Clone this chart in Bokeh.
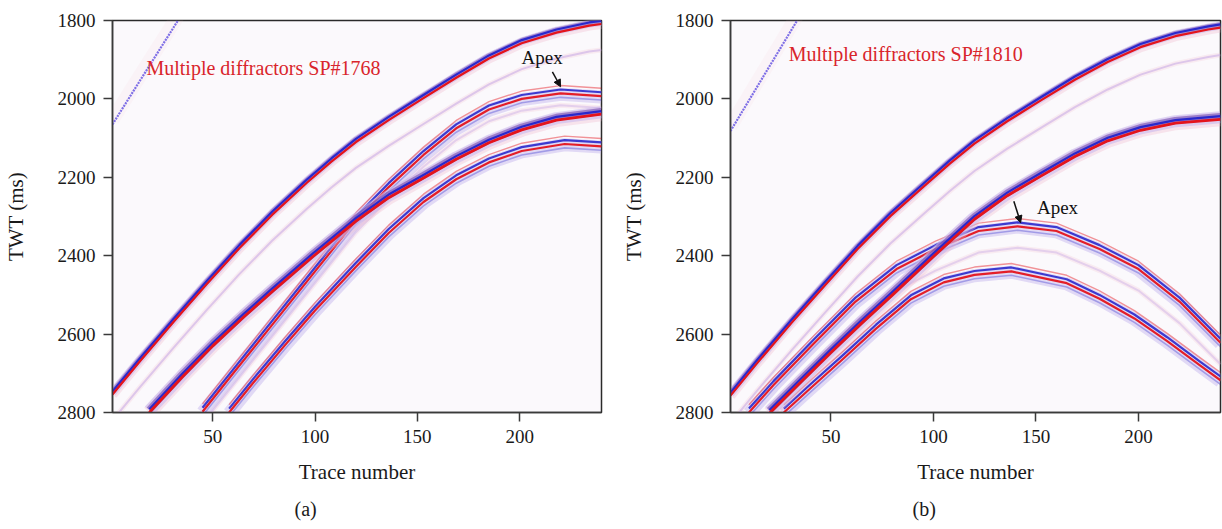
import numpy as np
from bokeh.plotting import figure
from bokeh.layouts import row
from bokeh.models import Label, Arrow, NormalHead, Range1d, FixedTicker, Title
from bokeh.embed import file_html
from bokeh.resources import INLINE

# ---------------- data ----------------
trace_ticks = [50, 100, 150, 200]
twt_ticks = [1800, 2000, 2200, 2400, 2600, 2800]

# Panel (a) SP#1768
a0_x = [1, 14, 33]
a0_t = [2065, 1957, 1800]
a1_x = [1, 14, 31, 47, 63, 79, 96, 108, 120, 136, 153, 169, 185, 201, 218, 234, 240]
a1_t = [2752, 2670, 2566, 2471, 2379, 2294, 2212, 2158, 2108, 2052, 1996, 1944, 1895, 1856, 1829, 1811, 1807]
a1m_t = [2820, 2738, 2634, 2539, 2447, 2362, 2280, 2226, 2176, 2120, 2064, 2012, 1963, 1924, 1897, 1879, 1875]
a2_x = [19, 35, 50, 65, 79, 99, 120, 136, 153, 169, 185, 201, 218, 240]
a2_t = [2798, 2708, 2628, 2555, 2490, 2400, 2310, 2250, 2200, 2152, 2110, 2077, 2052, 2037]
a3_x = [45, 60, 80, 100, 120, 136, 153, 169, 185, 201, 220, 240]
a3_t = [2798, 2700, 2570, 2440, 2310, 2225, 2143, 2075, 2027, 2000, 1986, 1993]
a4_x = [58, 70, 85, 100, 120, 136, 153, 169, 185, 201, 222, 240]
a4_t = [2800, 2723, 2630, 2540, 2428, 2342, 2263, 2205, 2162, 2133, 2115, 2121]

# Panel (b) SP#1810
b0_x = [1, 17, 33.5]
b0_t = [2082, 1943, 1800]
b1_x = [1, 14, 31, 47, 63, 79, 96, 108, 120, 136, 153, 169, 185, 201, 218, 234, 240]
b1_t = [2755, 2672, 2568, 2474, 2381, 2297, 2218, 2163, 2112, 2055, 2000, 1949, 1904, 1866, 1838, 1821, 1816]
b1m_t = [2827, 2744, 2640, 2546, 2453, 2369, 2290, 2235, 2184, 2127, 2072, 2021, 1976, 1938, 1910, 1893, 1888]
b2_x = [20, 35, 50, 65, 80, 100, 120, 136, 153, 169, 185, 201, 218, 240]
b2_t = [2800, 2722, 2645, 2570, 2498, 2400, 2305, 2245, 2193, 2145, 2105, 2078, 2060, 2050]
b3_x = [10, 22, 42, 62, 82, 101, 122, 141, 160, 181, 200, 220, 240]
b3_t = [2800, 2730, 2622, 2517, 2434, 2383, 2337, 2325, 2337, 2383, 2434, 2517, 2622]
b4_x = [27, 40, 56, 72, 89, 105, 120, 138, 165, 181, 198, 214, 230, 240]
b4_t = [2800, 2738, 2663, 2586, 2511, 2468, 2449, 2440, 2470, 2510, 2560, 2618, 2680, 2718]

titles = ["Multiple diffractors SP#1768", "Multiple diffractors SP#1810"]
panel_tags = ["(a)", "(b)"]

# ---------------- styles ----------------
FONT = "Liberation Serif"
BLUE = "#2a28cc"
RED = "#e4141c"
HALO = "#c2b2ee"
FUZZ = "#5a2fa8"
PINK = "#f1b9cf"


def shift(t, d):
    return [v + d for v in t]


def strong(p, x, t, thick=False):
    p.line(x, shift(t, 2), line_width=14 if thick else 10, color=PINK, alpha=0.35, line_join="round")
    p.line(x, shift(t, -3), line_width=12 if thick else 8, color=HALO, alpha=0.5, line_join="round")
    p.line(x, shift(t, -5), line_width=7 if thick else 5, color=FUZZ, alpha=0.5 if thick else 0.42,
           line_join="round")
    p.line(x, shift(t, -6), line_width=2.2, color=BLUE, line_join="round")
    p.line(x, shift(t, 2), line_width=2.8 if thick else 2.2, color=RED, line_join="round")


def apex(p, x, t):
    p.line(x, shift(t, 2), line_width=13, color=HALO, alpha=0.45, line_join="round")
    p.line(x, shift(t, -20), line_width=1.4, color=RED, alpha=0.45, line_join="round")
    p.line(x, shift(t, -10), line_width=2.2, color=BLUE, alpha=0.9, line_join="round")
    p.line(x, t, line_width=2.2, color=RED, alpha=0.95, line_join="round")
    p.line(x, shift(t, 10), line_width=1.6, color=BLUE, alpha=0.35, line_join="round")


def faint(p, x, t, color="#c9aee6", alpha=0.6, w=2):
    p.line(x, t, line_width=w + 3, color=PINK, alpha=0.22, line_join="round")
    p.line(x, t, line_width=w, color=color, alpha=alpha, line_join="round")


def steep(p, x, t):
    p.line(x, shift(t, -12), line_width=14, color="#f7cdd2", alpha=0.12)
    p.line(x, t, line_width=2.2, color="#7e6ee6", line_dash="2 1")


def make_fig(border_left, border_right, width, tag, tag_offset):
    p = figure(width=width, height=529, output_backend="svg", toolbar_location=None,
               x_range=Range1d(1, 240), y_range=Range1d(2800, 1800),
               min_border_left=border_left, min_border_right=border_right,
               min_border_top=20, min_border_bottom=115)
    p.background_fill_color = "#fbf9fc"
    p.border_fill_color = "white"
    p.outline_line_color = "#2a2a2a"
    p.outline_line_width = 1.5
    p.grid.visible = False
    p.xaxis.ticker = FixedTicker(ticks=trace_ticks)
    p.yaxis.ticker = FixedTicker(ticks=twt_ticks)
    p.xaxis.axis_label = "Trace number"
    p.yaxis.axis_label = "TWT (ms)"
    for ax in (p.xaxis, p.yaxis):
        ax.axis_line_color = "#3a3a3a"
        ax.axis_line_width = 1.5
        ax.major_tick_line_color = "#3a3a3a"
        ax.major_tick_line_width = 1.5
        ax.major_tick_out = 9
        ax.major_tick_in = 0
        ax.minor_tick_out = 0
        ax.minor_tick_in = 0
        ax.major_label_text_font = FONT
        ax.major_label_text_font_size = "19px"
        ax.major_label_text_color = "#1a1a1a"
        ax.axis_label_text_font = FONT
        ax.axis_label_text_font_size = "21px"
        ax.axis_label_text_font_style = "normal"
        ax.axis_label_text_color = "#1a1a1a"
    p.xaxis.major_label_standoff = 8
    p.yaxis.major_label_standoff = 8
    p.xaxis.axis_label_standoff = 14
    p.yaxis.axis_label_standoff = 27
    p.add_layout(Title(text=tag, align="left", offset=tag_offset, text_font=FONT,
                       text_font_size="20px", text_font_style="normal",
                       text_color="#1a1a1a", standoff=19), "below")
    return p


def label(p, x, y, text, size, color, align="center"):
    p.add_layout(Label(x=x, y=y, text=text, text_font=FONT, text_font_size=size,
                       text_color=color, text_baseline="middle", text_align=align))


pa = make_fig(111, 14, 615, panel_tags[0], 182)
steep(pa, a0_x, a0_t)
faint(pa, a1_x, a1m_t)
faint(pa, a3_x, shift(a3_t, 30), alpha=0.45)
strong(pa, a1_x, a1_t)
apex(pa, a4_x, a4_t)
apex(pa, a3_x, a3_t)
strong(pa, a2_x, a2_t, thick=True)
label(pa, 17.6, 1922, titles[0], "20px", "#d9252b", "left")
label(pa, 211, 1894, "Apex", "19px", "#111111")
pa.add_layout(Arrow(end=NormalHead(size=7, fill_color="#111111", line_color="#111111"),
                    x_start=216, y_start=1931, x_end=220, y_end=1969, line_width=1.5, line_color="#111111"))

pb = make_fig(115, 2, 607, panel_tags[1], 182)
steep(pb, b0_x, b0_t)
faint(pb, b1_x, b1m_t)
faint(pb, b3_x, shift(b3_t, 55), alpha=0.45)
strong(pb, b1_x, b1_t)
apex(pb, b4_x, b4_t)
apex(pb, b3_x, b3_t)
strong(pb, b2_x, b2_t, thick=True)
label(pb, 29.4, 1885, titles[1], "20px", "#d9252b", "left")
label(pb, 160.5, 2277, "Apex", "19px", "#111111")
pb.add_layout(Arrow(end=NormalHead(size=7, fill_color="#111111", line_color="#111111"),
                    x_start=139.2, y_start=2261, x_end=142.5, y_end=2316, line_width=1.5, line_color="#111111"))

layout = row(pa, pb)
open("out.html", "w").write(file_html(layout, INLINE))
